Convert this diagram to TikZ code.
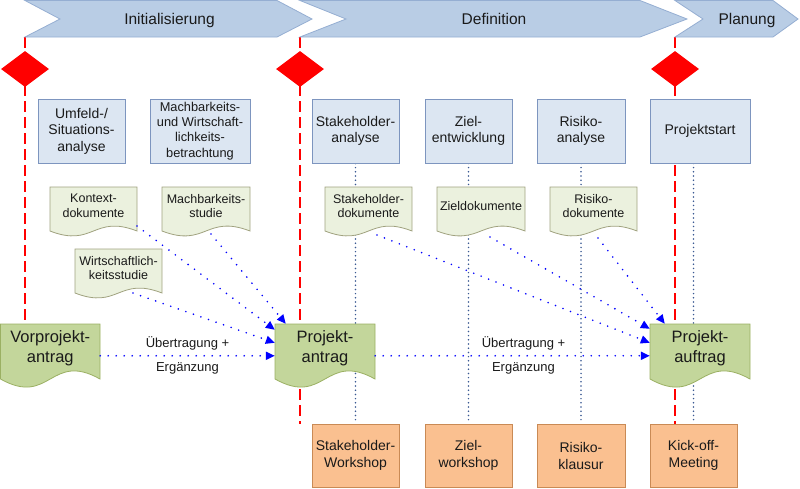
\documentclass[tikz,border=0pt]{standalone}
\usepackage{fontspec}
\setmainfont{Liberation Sans}
\usetikzlibrary{shapes.geometric,arrows.meta,calc}
\pgfdeclarelayer{bg}
\pgfsetlayers{bg,main}
\definecolor{chevfill}{HTML}{B9CDE5}
\definecolor{chevdraw}{HTML}{95AED2}
\definecolor{boxfill}{HTML}{DCE6F2}
\definecolor{boxdraw}{HTML}{7D95BF}
\definecolor{docfill}{HTML}{EBF1DE}
\definecolor{docdraw}{HTML}{A0A27F}
\definecolor{bigfill}{HTML}{C3D69B}
\definecolor{bigdraw}{HTML}{9BB063}
\definecolor{orfill}{HTML}{FAC090}
\definecolor{ordraw}{HTML}{C98A55}
\definecolor{vdotc}{HTML}{3B5A93}
\definecolor{txt}{HTML}{1A1A1A}
\definecolor{arrblue}{HTML}{0000FF}
\definecolor{msred}{HTML}{FF0000}
\newcommand\wavec{17}
% #1 name #2 path style #3 text style #4 x1 #5 y1 #6 x2 #7 yb #8 yc #9 text
\newcommand\mkdoc[9]{%
  \path[#2] (#4,#5) -- (#6,#5) -- (#6,#7) .. controls ({(#4+#6)/2},{#7-\wavec}) and ({(#4+#6)/2},{#7+\wavec}) .. (#4,#7) -- cycle;
  \node[#3, minimum width={(#6-#4)*1pt}, minimum height={2*(#8-#5)*1pt}] (#1) at ({(#4+#6)/2},#8) {#9};
}
\tikzset{
  chev/.style={fill=chevfill, draw=chevdraw, line width=0.8pt},
  chevtxt/.style={font=\fontsize{15.5}{18}\selectfont, text=txt, inner sep=0, anchor=base},
  milestone/.style={shape=diamond, fill=msred, draw=none, minimum width=48pt, minimum height=36pt, inner sep=0},
  actbox/.style={draw=boxdraw, fill=boxfill, line width=0.8pt, minimum width=87pt, minimum height=64pt, align=center, font=\fontsize{14}{16.5}\selectfont, text=txt, inner sep=1pt},
  wsbox/.style={draw=ordraw, fill=orfill, line width=0.8pt, minimum width=87pt, minimum height=63pt, align=center, font=\fontsize{14}{17}\selectfont, text=txt, inner sep=1pt},
  docpath/.style={draw=docdraw, fill=docfill, line width=0.8pt},
  doctxt/.style={align=center, inner sep=0, font=\fontsize{12.5}{14.5}\selectfont, text=txt},
  bigpath/.style={draw=bigdraw, fill=bigfill, line width=0.8pt},
  bigtxt/.style={align=center, inner sep=0, font=\fontsize{16.5}{20}\selectfont, text=txt},
  flow/.style={draw=arrblue, line width=1.8pt, line cap=round, dash pattern=on 0pt off 8pt, -{Triangle[length=9pt,width=8pt]}},
  flowlbl/.style={align=center, font=\fontsize{13}{24}\selectfont, text=txt, inner sep=0},
  trace/.style={draw=vdotc, line width=1.7pt, line cap=round, dash pattern=on 0pt off 4.2pt},
  msline/.style={draw=msred, line width=1.5pt, dash pattern=on 11pt off 5pt},
}
\begin{document}
\begin{tikzpicture}[x=1pt, y=-1pt]
\useasboundingbox (0,0) rectangle (800,488);
% phases
\path[chev] (25,0.5) -- (277,0.5) -- (312,19) -- (277,37) -- (25,37) -- (60,19) -- cycle;
\path[chev] (300,0.5) -- (640,0.5) -- (687,19) -- (640,37) -- (300,37) -- (346,19) -- cycle;
\path[chev] (675,0.5) -- (773,0.5) -- (798,19) -- (773,37) -- (675,37) -- (703,19) -- cycle;
\node[chevtxt] (ch1) at (169.5,24.5) {Initialisierung};
\node[chevtxt] (ch2) at (494,24.5) {Definition};
\node[chevtxt] (ch3) at (747,24.5) {Planung};
\coordinate (m1) at (25,37);
\coordinate (m2) at (300,37);
\coordinate (m3) at (675,37);
% milestones
\node[milestone] (ms1) at (25,69) {};
\node[milestone] (ms2) at (300,69) {};
\node[milestone] (ms3) at (675,69) {};
% activities
\node[actbox] (ua) at (81.5,131) {Umfeld-/\\Situations-\\analyse};
\node[actbox, minimum width=100pt, font=\fontsize{12.8}{15.3}\selectfont] (mb) at (200,131) {Machbarkeits-\\und Wirtschaft-\\lichkeits-\\betrachtung};
\node[actbox] (sa) at (355.5,131) {Stakeholder-\\analyse};
\node[actbox] (ze) at (468.5,131) {Ziel-\\entwicklung};
\node[actbox, minimum width=88pt] (ra) at (581,131) {Risiko-\\analyse};
\node[actbox, minimum width=100pt] (ps) at (700,131) {Projektstart};
% workshops
\node[wsbox] (sw) at (355.5,455.5) {Stakeholder-\\Workshop};
\node[wsbox] (zw) at (468.5,455.5) {Ziel-\\workshop};
\node[wsbox, minimum width=88pt] (rk) at (581,455.5) {Risiko-\\klausur};
\node[wsbox] (ko) at (693.5,455.5) {Kick-off-\\Meeting};
% documents
\mkdoc{kd}{docpath}{doctxt}{50}{187}{137}{231}{206}{Kontext-\\dokumente}
\mkdoc{md}{docpath}{doctxt}{162}{187}{250}{231}{206}{Machbarkeits-\\studie}
\mkdoc{wd}{docpath}{doctxt}{75}{249}{162}{293}{268}{Wirtschaftlich-\\keitsstudie}
\mkdoc{sd}{docpath}{doctxt}{325}{187}{412}{231}{206}{Stakeholder-\\dokumente}
\mkdoc{zd}{docpath}{doctxt}{437}{187}{525}{231}{206}{Zieldokumente}
\mkdoc{rd}{docpath}{doctxt}{550}{187}{637}{231}{206}{Risiko-\\dokumente}
\renewcommand\wavec{28}
\mkdoc{vpa}{bigpath}{bigtxt}{0.5}{324}{100}{379}{348}{Vorprojekt-\\antrag}
\mkdoc{pa}{bigpath}{bigtxt}{275}{324}{375}{379}{348}{Projekt-\\antrag}
\mkdoc{pf}{bigpath}{bigtxt}{650}{324}{750}{379}{348}{Projekt-\\auftrag}
% background lines
\begin{pgfonlayer}{bg}
\draw[msline] (m1) -- (m1 |- vpa.north);
\draw[msline] (m2) -- (m2 |- sw.north);
\draw[msline] (m3) -- (m3 |- ko.north);
\draw[trace] (sa) -- (sw);
\draw[trace] (ze) -- (zw);
\draw[trace] (ra) -- (rk);
\draw[trace] (ps.south -| ko.north) -- (ko.north);
\end{pgfonlayer}
% flows
\draw[flow] ($(kd)+(43.5,20)$) -- ($(pa.north west)+(0,6)$);
\draw[flow] ($(md)+(5,28)$) -- ($(pa.north west)+(11,0)$);
\draw[flow] ($(wd)+(14.5,25)$) -- ($(pa.north west)+(0,19)$);
\draw[flow] ($(vpa.north east)+(0,32)$) -- node[flowlbl] {Übertragung +\\Ergänzung} ($(pa.north west)+(0,32)$);
\draw[flow] ($(sd)+(8.5,29)$) -- ($(pf.north west)+(0,19)$);
\draw[flow] ($(zd)+(9,31)$) -- ($(pf.north west)+(0,5)$);
\draw[flow] ($(rd)+(4.5,32)$) -- ($(pf.north west)+(15,0)$);
\draw[flow] ($(pa.north east)+(0,32)$) -- node[flowlbl, pos=0.54] {Übertragung +\\Ergänzung} ($(pf.north west)+(0,32)$);
\end{tikzpicture}
\end{document}
